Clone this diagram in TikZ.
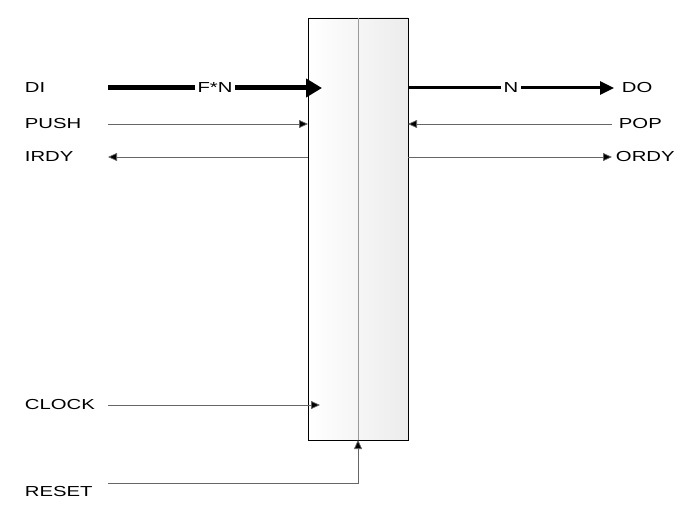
\documentclass[tikz,border=0pt]{standalone}
\usepackage{fontspec}
\setmainfont{Liberation Sans}
\usetikzlibrary{arrows.meta}
\begin{document}
\begin{tikzpicture}[x=1pt,y=-1pt,
  lbl/.style={font=\fontsize{14.5}{16}\selectfont,xscale=1.4},
  thin sig/.style={draw=gray!80!black, line width=0.7pt},
  tip/.style={-{Triangle[length=9pt,width=8pt,fill=black]}},
  thick sig/.style={line width=5pt,-{Triangle[length=16pt,width=18pt]}},
  med sig/.style={line width=3pt,-{Triangle[length=14pt,width=13pt]}}]
\useasboundingbox (0,0) rectangle (700,518);
\path[left color=white,right color=gray!15,draw=black,line width=0.8pt] (308,18) rectangle (408,440);
\draw[gray!80,line width=0.6pt] (358,18) -- (358,440);
% labels
\node[lbl,anchor=west] (di) at (20,88) {DI};
\node[lbl,anchor=west] (push) at (20,124) {PUSH};
\node[lbl,anchor=west] (irdy) at (20,157) {IRDY};
\node[lbl,anchor=west] (clock) at (20,405) {CLOCK};
\node[lbl,anchor=west] (reset) at (20,492) {RESET};
\node[lbl,anchor=west] (do) at (617,88) {DO};
\node[lbl,anchor=west] (pop) at (614,124) {POP};
\node[lbl,anchor=west] (ordy) at (611,157) {ORDY};
\coordinate (diL) at (108,88); \coordinate (diR) at (322,88);
\coordinate (doL) at (408,88); \coordinate (doR) at (614,88);
\coordinate (pushL) at (108,124); \coordinate (pushR) at (308,124);
\coordinate (popR) at (612,124); \coordinate (popL) at (408,124);
\coordinate (irdyL) at (108,157); \coordinate (irdyR) at (308,157);
\coordinate (ordyL) at (408,157); \coordinate (ordyR) at (612,157);
\coordinate (clkL) at (108,405); \coordinate (clkR) at (320,405);
\coordinate (rstL) at (108,483); \coordinate (rstC) at (358,483); \coordinate (rstT) at (358,440);
\draw[thick sig] (diL) -- node[lbl,fill=white,inner sep=2pt] (fn) {F*N} (diR);
\draw[med sig] (doL) -- node[lbl,fill=white,inner sep=2pt] (n) {N} (doR);
\draw[thin sig,tip] (pushL) -- (pushR);
\draw[thin sig,tip] (popR) -- (popL);
\draw[thin sig,tip] (irdyR) -- (irdyL);
\draw[thin sig,tip] (ordyL) -- (ordyR);
\draw[thin sig,tip] (clkL) -- (clkR);
\draw[thin sig,tip] (rstL) -- (rstC) -- (rstT);
\end{tikzpicture}
\end{document}
